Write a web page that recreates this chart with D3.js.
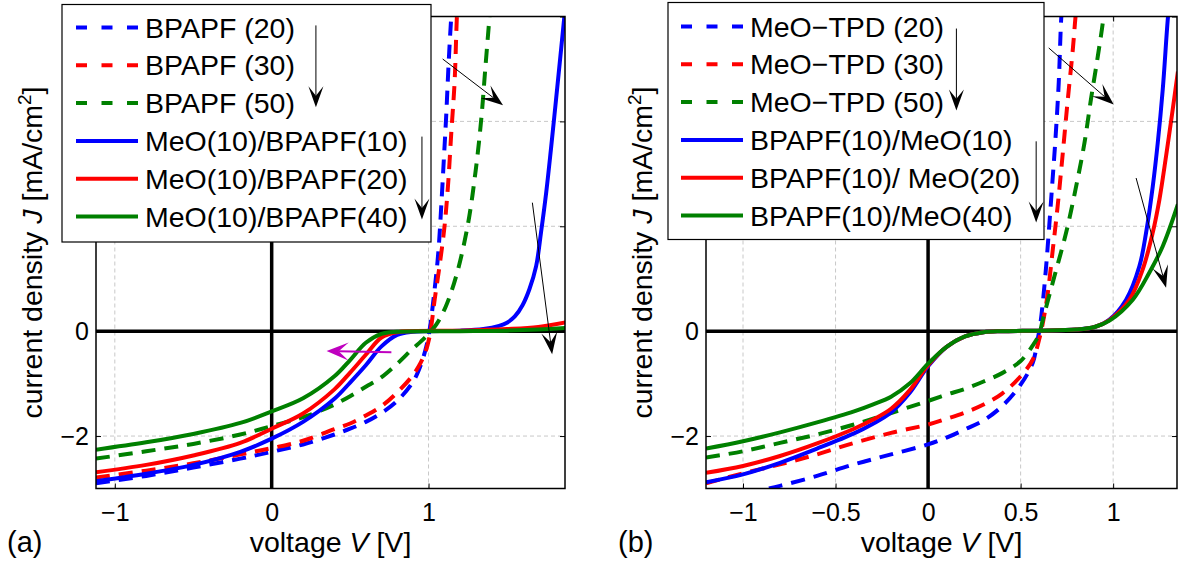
<!DOCTYPE html>
<html><head><meta charset="utf-8">
<script src="https://cdn.jsdelivr.net/npm/d3@7"></script>
<style>
body{margin:0;background:#fff}
svg{display:block}
</style>
</head><body>
<svg id="c" width="1181" height="567"></svg>
<script>
// ---------------- DATA ----------------
const leftXTicks  = [-1, 0, 1];
const rightXTicks = [-1, -0.5, 0, 0.5, 1];
const yTicks      = [-2, 0, 2, 4, 6];
const yLabelled   = [-2, 0];            // other labels are hidden behind the legend

const leftNames  = ["BPAPF (20)", "BPAPF (30)", "BPAPF (50)", "MeO(10)/BPAPF(10)", "MeO(10)/BPAPF(20)", "MeO(10)/BPAPF(40)"];
const rightNames = ["MeO\u2212TPD (20)", "MeO\u2212TPD (30)", "MeO\u2212TPD (50)", "BPAPF(10)/MeO(10)", "BPAPF(10)/ MeO(20)", "BPAPF(10)/MeO(40)"];

// (a) single-layer BPAPF (dashed)
const aV_B20 = [-1.12,-0.8,-0.5,-0.2,0,0.2,0.4,0.5,0.6,0.7,0.8,0.9,0.95,0.985,1.007,1.034,1.062,1.081,1.098,1.113,1.128,1.145,1.16];
const aJ_B20 = [-2.9,-2.76,-2.6,-2.43,-2.30,-2.16,-1.97,-1.86,-1.73,-1.56,-1.33,-0.97,-0.65,-0.3,0.03,0.67,1.49,2.38,3.3,4.13,5.1,6.0,6.6];
const aV_B30 = [-1.12,-0.8,-0.5,-0.2,0,0.2,0.4,0.5,0.6,0.7,0.8,0.9,0.95,0.98,1.007,1.02,1.039,1.07,1.102,1.124,1.145,1.166,1.18,1.19];
const aJ_B30 = [-2.79,-2.66,-2.52,-2.35,-2.23,-2.09,-1.87,-1.76,-1.61,-1.43,-1.17,-0.84,-0.6,-0.4,-0.1,0.15,0.6,1.24,2.0,2.77,3.78,4.74,5.94,6.5];
const aV_B50 = [-1.12,-0.8,-0.5,-0.2,0,0.2,0.3,0.4,0.5,0.6,0.69,0.8,0.9,0.95,1.0,1.05,1.11,1.18,1.25,1.30,1.336,1.363,1.384,1.40];
const aJ_B50 = [-2.43,-2.29,-2.15,-1.97,-1.81,-1.64,-1.53,-1.40,-1.24,-1.06,-0.90,-0.62,-0.33,-0.2,-0.05,0.13,0.47,1.09,2.02,3.05,4.04,5.05,5.82,6.4];
// (a) MeO/BPAPF (solid)
const aV_M10 = [-1.12,-0.8,-0.5,-0.2,0,0.2,0.4,0.5,0.6,0.7,0.8,0.9,1.0,1.2,1.35,1.45,1.5,1.55,1.6,1.643,1.686,1.717,1.75,1.78,1.813,1.845,1.866,1.88];
const aJ_M10 = [-2.86,-2.72,-2.55,-2.30,-2.05,-1.73,-1.29,-0.98,-0.65,-0.29,-0.07,-0.01,0,0.01,0.04,0.1,0.16,0.28,0.5,0.8,1.24,1.88,2.64,3.46,4.42,5.37,6.0,6.4];
const aV_M20 = [-1.12,-0.8,-0.5,-0.2,0,0.2,0.4,0.5,0.6,0.7,0.8,0.9,1.2,1.5,1.7,1.88];
const aJ_M20 = [-2.69,-2.55,-2.37,-2.13,-1.86,-1.57,-1.11,-0.79,-0.45,-0.12,-0.02,0,0.01,0.04,0.08,0.17];
const aV_M40 = [-1.12,-0.8,-0.5,-0.2,0,0.2,0.4,0.5,0.6,0.7,0.8,1.2,1.5,1.7,1.88];
const aJ_M40 = [-2.26,-2.12,-1.96,-1.75,-1.53,-1.28,-0.86,-0.55,-0.22,-0.05,-0.01,0,0.01,0.03,0.06];

// (b) single-layer MeO-TPD (dashed)
const bV_T20 = [-0.86,-0.8,-0.6,-0.4,-0.2,0,0.1,0.2,0.3,0.4,0.5,0.566,0.59,0.605,0.62,0.638,0.652,0.670,0.688,0.706,0.719,0.73];
const bJ_T20 = [-3.0,-2.95,-2.76,-2.54,-2.35,-2.16,-2.03,-1.87,-1.70,-1.43,-1.02,-0.60,-0.2,0.1,0.55,1.24,1.88,2.76,3.65,4.74,5.94,6.5];
const bV_T30 = [-1.2,-1.0,-0.8,-0.6,-0.4,-0.2,0,0.1,0.2,0.3,0.4,0.5,0.566,0.60,0.625,0.647,0.674,0.70,0.728,0.755,0.782,0.796,0.81];
const bJ_T30 = [-2.9,-2.71,-2.54,-2.35,-2.13,-1.94,-1.78,-1.67,-1.55,-1.40,-1.19,-0.86,-0.54,-0.16,0.25,0.73,1.56,2.38,3.40,4.42,5.37,5.97,6.5];
const bV_T50 = [-1.2,-1.0,-0.8,-0.6,-0.4,-0.2,0,0.1,0.2,0.3,0.4,0.5,0.566,0.60,0.62,0.683,0.746,0.80,0.845,0.88,0.917,0.944,0.96];
const bJ_T50 = [-2.41,-2.29,-2.13,-1.97,-1.78,-1.56,-1.33,-1.21,-1.10,-0.96,-0.80,-0.57,-0.27,-0.06,0.22,1.05,1.88,2.76,3.59,4.42,5.24,5.88,6.4];
// (b) BPAPF/MeO (solid)
const bV_P10 = [-1.2,-1.0,-0.8,-0.6,-0.4,-0.3,-0.2,-0.1,0,0.1,0.2,0.3,0.4,0.6,0.8,0.9,0.98,1.07,1.142,1.178,1.214,1.241,1.268,1.295,1.31];
const bJ_P10 = [-2.88,-2.73,-2.51,-2.24,-1.95,-1.77,-1.55,-1.18,-0.67,-0.30,-0.10,-0.02,0,0.01,0.03,0.08,0.22,0.6,1.24,1.88,2.76,3.59,4.61,5.94,6.5];
const bV_P20 = [-1.2,-1.0,-0.8,-0.6,-0.4,-0.3,-0.2,-0.1,0,0.1,0.2,0.3,0.4,0.6,0.8,0.9,0.98,1.088,1.16,1.214,1.25,1.286,1.322,1.35];
const bJ_P20 = [-2.70,-2.57,-2.38,-2.14,-1.86,-1.69,-1.48,-1.13,-0.65,-0.30,-0.10,-0.02,0,0.01,0.03,0.08,0.21,0.6,1.18,1.88,2.51,3.34,4.23,4.95];
const bV_P40 = [-1.2,-1.0,-0.8,-0.6,-0.4,-0.3,-0.2,-0.1,0,0.1,0.2,0.3,0.4,0.6,0.8,0.9,0.98,1.106,1.196,1.268,1.35];
const bJ_P40 = [-2.24,-2.10,-1.93,-1.74,-1.53,-1.40,-1.25,-1.00,-0.62,-0.30,-0.10,-0.02,0,0.01,0.03,0.08,0.2,0.6,1.12,1.62,2.42];

// annotation arrows, in data coordinates [v1, j1, v2, j2] (tail -> tip)
const leftPlotArrows   = [[1.090, 5.19, 1.475, 4.31], [1.662, 2.45, 1.788, -0.44]];
const leftLegendArrows = [[0.282, 5.83, 0.282, 4.27], [0.958, 3.71, 0.958, 2.13]];
const leftShiftArrow   = [0.763, -0.40, 0.35, -0.38];
const rightPlotArrows   = [[0.652, 5.40, 1.003, 4.32], [1.124, 2.92, 1.286, 0.83]];
const rightLegendArrows = [[0.153, 5.77, 0.153, 4.21], [0.584, 3.62, 0.584, 2.07]];

// ---------------- STYLE / LAYOUT ----------------
const FONT = '"Liberation Sans", Arial, Helvetica, sans-serif';
const seriesColors = ["#0000ff", "#ff0000", "#008000", "#0000ff", "#ff0000", "#008000"];
const seriesDashed = [true, true, true, false, false, false];
const yDomain = [-3, 6];
const TOP = 16.5, BOTTOM = 488.5;

const svg = d3.select("#c").attr("font-family", FONT);
const fmt = d => d < 0 ? "\u2212" + Math.abs(d) : String(d);

function arrow(g, x1, y1, x2, y2, color, lw, L, W) {
  const ang = Math.atan2(y2 - y1, x2 - x1);
  const notch = L * 0.55;
  g.append("line")
    .attr("x1", x1).attr("y1", y1)
    .attr("x2", x2 - Math.cos(ang) * notch).attr("y2", y2 - Math.sin(ang) * notch)
    .attr("stroke", color).attr("stroke-width", lw);
  const pts = [[0, 0], [-L, W / 2], [-notch, 0], [-L, -W / 2]];
  g.append("path")
    .attr("d", "M" + pts.map(p => p.join(",")).join("L") + "Z")
    .attr("transform", `translate(${x2},${y2}) rotate(${ang * 180 / Math.PI})`)
    .attr("fill", color);
}

function panel(p) {
  const g = svg.append("g");
  const x = d3.scaleLinear().domain(p.xDomain).range([p.left, p.right]);
  const y = d3.scaleLinear().domain(yDomain).range([BOTTOM, TOP]);

  svg.append("clipPath").attr("id", "clip" + p.id)
    .append("rect").attr("x", p.left).attr("y", TOP)
    .attr("width", p.right - p.left).attr("height", BOTTOM - TOP);

  // grid
  g.append("g").selectAll("line").data(p.xTicks).join("line")
    .attr("x1", d => x(d)).attr("x2", d => x(d)).attr("y1", TOP).attr("y2", BOTTOM)
    .attr("stroke", "#c8c8c8").attr("stroke-width", 1).attr("stroke-dasharray", "4,3");
  g.append("g").selectAll("line").data(yTicks).join("line")
    .attr("y1", d => y(d)).attr("y2", d => y(d)).attr("x1", p.left).attr("x2", p.right)
    .attr("stroke", "#c8c8c8").attr("stroke-width", 1).attr("stroke-dasharray", "4,3");

  // thick zero lines
  g.append("line").attr("x1", x(0)).attr("x2", x(0)).attr("y1", TOP).attr("y2", BOTTOM)
    .attr("stroke", "#000").attr("stroke-width", 3.5);
  g.append("line").attr("x1", p.left).attr("x2", p.right).attr("y1", y(0)).attr("y2", y(0))
    .attr("stroke", "#000").attr("stroke-width", 3.5);

  // curves
  const cg = g.append("g").attr("clip-path", `url(#clip${p.id})`);
  const line = d3.line().x(d => x(d[0])).y(d => y(d[1])).curve(d3.curveCatmullRom.alpha(0.5));
  p.series.forEach((s, i) => {
    cg.append("path").datum(d3.zip(s[0], s[1]))
      .attr("d", line).attr("fill", "none")
      .attr("stroke", seriesColors[i]).attr("stroke-width", 4)
      .attr("stroke-dasharray", seriesDashed[i] ? "14,9" : null);
  });

  // axes (ticks inside)
  const styleAxis = sel => {
    sel.select(".domain").remove();
    sel.attr("font-size", 25).attr("font-family", FONT);
    sel.selectAll("line").attr("stroke", "#000").attr("stroke-width", 1);
    sel.selectAll("text").attr("fill", "#000");
  };
  g.append("g").attr("transform", `translate(0,${BOTTOM})`)
    .call(d3.axisBottom(x).tickValues(p.xTicks).tickSize(-5).tickPadding(14.5).tickFormat(fmt)).call(styleAxis);
  g.append("g").attr("transform", `translate(0,${TOP})`)
    .call(d3.axisTop(x).tickValues(p.xTicks).tickSize(-5).tickFormat("")).call(styleAxis);
  g.append("g").attr("transform", `translate(${p.left},0)`)
    .call(d3.axisLeft(y).tickValues(yTicks).tickSize(-5).tickPadding(7)
      .tickFormat(d => yLabelled.includes(d) ? fmt(d) : "")).call(styleAxis);
  g.append("g").attr("transform", `translate(${p.right},0)`)
    .call(d3.axisRight(y).tickValues(yTicks).tickSize(-5).tickFormat("")).call(styleAxis);

  g.append("rect").attr("x", p.left).attr("y", TOP)
    .attr("width", p.right - p.left).attr("height", BOTTOM - TOP)
    .attr("fill", "none").attr("stroke", "#000").attr("stroke-width", 1.5);

  // axis labels
  const xl = svg.append("text").attr("x", (p.left + p.right) / 2).attr("y", 551.5)
    .attr("text-anchor", "middle").attr("font-size", 28.5);
  xl.append("tspan").text("voltage ");
  xl.append("tspan").attr("font-style", "italic").text("V");
  xl.append("tspan").text(" [V]");

  const yl = svg.append("text")
    .attr("transform", `translate(${p.left - 54},${(TOP + BOTTOM) / 2}) rotate(-90)`)
    .attr("text-anchor", "middle").attr("font-size", 28.5);
  yl.append("tspan").text("current density ");
  yl.append("tspan").attr("font-style", "italic").text("J");
  yl.append("tspan").text(" [mA/cm");
  yl.append("tspan").attr("font-size", 19).attr("dy", -11).text("2");
  yl.append("tspan").attr("dy", 11).text("]");

  svg.append("text").attr("x", p.letterX).attr("y", 551.5).attr("font-size", 29).text(p.letter);

  // plot arrows
  const ag = svg.append("g");
  p.plotArrows.forEach(a => arrow(ag, x(a[0]), y(a[1]), x(a[2]), y(a[3]), "#000", 1, 22, 16));
  if (p.shiftArrow) {
    const a = p.shiftArrow;
    arrow(ag, x(a[0]), y(a[1]), x(a[2]), y(a[3]), "#bf00bf", 2, 22, 18);
  }

  // legend
  const lg = svg.append("g");
  const lb = p.legend;
  lg.append("rect").attr("x", lb.x).attr("y", lb.y).attr("width", lb.w).attr("height", lb.h)
    .attr("fill", "#fff").attr("stroke", "#000").attr("stroke-width", 1.2);
  p.names.forEach((nm, i) => {
    const by = lb.base + i * 37.8;
    lg.append("line").attr("x1", lb.lx1).attr("x2", lb.lx2).attr("y1", by - 10).attr("y2", by - 10)
      .attr("stroke", seriesColors[i]).attr("stroke-width", 4)
      .attr("stroke-dasharray", seriesDashed[i] ? "11,14.5" : null);
    lg.append("text").attr("x", lb.tx).attr("y", by).attr("font-size", 28.5)
      .attr("xml:space", "preserve").text(nm);
  });
  p.legendArrows.forEach(a => arrow(lg, x(a[0]), y(a[1]), x(a[2]), y(a[3]), "#000", 1, 21, 15));
}

panel({
  id: "a", left: 96, right: 565, xDomain: [-1.12, 1.87], xTicks: leftXTicks,
  series: [[aV_B20, aJ_B20], [aV_B30, aJ_B30], [aV_B50, aJ_B50], [aV_M10, aJ_M10], [aV_M20, aJ_M20], [aV_M40, aJ_M40]],
  names: leftNames, letter: "(a)", letterX: 7,
  plotArrows: leftPlotArrows, legendArrows: leftLegendArrows, shiftArrow: leftShiftArrow,
  legend: {x: 62, y: 4.5, w: 369, h: 237.5, lx1: 76, lx2: 138, tx: 145, base: 37.5}
});
panel({
  id: "b", left: 706, right: 1177, xDomain: [-1.2, 1.345], xTicks: rightXTicks,
  series: [[bV_T20, bJ_T20], [bV_T30, bJ_T30], [bV_T50, bJ_T50], [bV_P10, bJ_P10], [bV_P20, bJ_P20], [bV_P40, bJ_P40]],
  names: rightNames, letter: "(b)", letterX: 618,
  plotArrows: rightPlotArrows, legendArrows: rightLegendArrows, shiftArrow: null,
  legend: {x: 668, y: 2.5, w: 376, h: 237, lx1: 681, lx2: 743, tx: 750, base: 36.5}
});
</script>
</body></html>
